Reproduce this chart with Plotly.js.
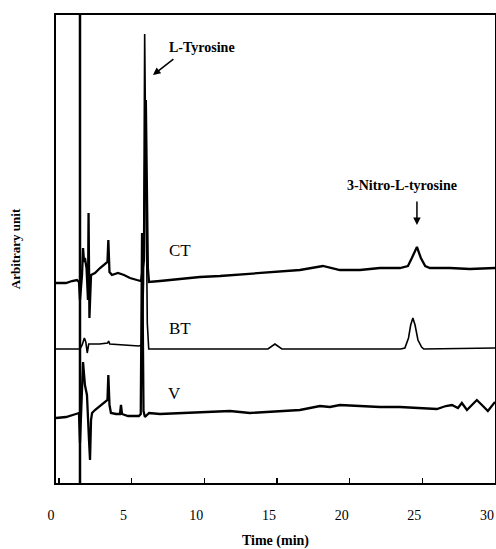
<!DOCTYPE html>
<html>
<head>
<meta charset="utf-8">
<script src="https://cdn.plot.ly/plotly-3.0.1.min.js"></script>
<style>html,body{margin:0;padding:0;background:#fff;}#chart{width:496px;height:549px;}</style>
</head>
<body>
<div id="chart"></div>
<script>
// Time (min) and detector response (arbitrary units)
const ctTime = [-0.2,0.49,0.9,1.24,1.38,1.45,1.59,1.66,1.73,1.79,1.9,2.0,2.04,2.1,2.21,2.48,2.83,3.17,3.34,3.4,3.48,3.65,4.06,4.48,4.89,5.37,5.65,5.85,5.98,6.12,6.2,6.95,8.33,9.7,11.08,13.14,15.2,16.58,18.16,19.33,20.71,22.08,23.46,24.01,24.28,24.63,24.9,25.2,25.52,26.9,28.27,30];
const ctValue = [200,200,202,203,201,183,208,235,221,225,215,183,270,165,208,210,215,219,221,243,211,208,210,208,205,203,202,223,383,215,201,202,204,206,207,209,211,213,217,213,213,215,215,217,225,236,225,217,215,215,214,215];

const btTime = [-0.2,1.3,1.45,1.6,1.75,1.85,1.95,2.05,2.2,2.8,3.35,3.42,3.5,4.5,5.5,5.72,5.82,5.9,5.98,6.08,6.18,8,10,13,14.38,14.86,15.34,16,20,23.5,23.8,24.05,24.2,24.35,24.5,24.7,24.95,25.1,30];
const btValue = [134,134,134,138,145,141,130,139,139,139,140,142,139,138,137,138,200,449,300,160,134,134,134,134,134,139,134,134,134,134,135,145,158,165,158,143,136,134,135];

const vTime = [-0.2,0.49,1.17,1.38,1.45,1.59,1.66,1.79,1.93,2.07,2.14,2.21,2.28,2.48,2.83,3.17,3.34,3.4,3.48,3.58,3.93,4.2,4.27,4.34,4.75,5.5,5.63,5.72,5.82,5.92,6.2,6.95,8.33,9.7,11.77,13.14,15.2,16.58,17.96,18.64,19.33,20.71,22.08,23.46,24.83,26.0,26.62,27.04,27.45,27.72,28.07,28.75,29.1,29.51,30];
const vValue = [65,66,69,70,40,103,121,98,88,43,23,63,70,73,77,81,83,108,78,70,69,69,78,69,67,67,69,250,72,66,70,69,70,71,72,70,72,73,77,76,78,77,76,76,75,74,77,78,75,80,73,83,78,72,81];

const injectionTime = 1.45;
const xTicks = [0,5,10,15,20,25,30];
const xTickLabels = ['0','5','10','15','20','25','30'];
const traceLabels = ['CT','BT','V'];

const serif = 'Liberation Serif, Times New Roman, serif';
const line = (x, y, w) => ({x: x, y: y, type: 'scatter', mode: 'lines', line: {color: '#000', width: w}, hoverinfo: 'skip', showlegend: false});

const data = [line(ctTime, ctValue, 2.3), line(btTime, btValue, 1.6), line(vTime, vValue, 2.3)];

const layout = {
  width: 496, height: 549,
  margin: {l: 56, r: 1, t: 15, b: 66},
  paper_bgcolor: '#fff', plot_bgcolor: '#fff',
  font: {family: serif, color: '#000', size: 14},
  showlegend: false,
  xaxis: {
    range: [-0.2, 30], tickvals: xTicks, ticktext: xTickLabels,
    ticks: 'inside', ticklen: 5, tickwidth: 1.5, tickcolor: '#000',
    ticklabelshift: -8, ticklabelstandoff: 18,
    showline: true, linecolor: '#000', linewidth: 2, mirror: true,
    showgrid: false, zeroline: false,
    tickfont: {family: serif, size: 14},
    title: {text: '<b>Time (min)</b>', font: {family: serif, size: 14}, standoff: 16}
  },
  yaxis: {
    range: [0, 468], showticklabels: false, ticks: '',
    showline: true, linecolor: '#000', linewidth: 2, mirror: true,
    showgrid: false, zeroline: false,
    title: {text: '<b>Arbitrary unit</b>', font: {family: serif, size: 13}, standoff: 30}
  },
  shapes: [{type: 'line', xref: 'x', yref: 'paper', x0: injectionTime, x1: injectionTime, y0: 0, y1: 1, line: {color: '#000', width: 2.5}}],
  annotations: [
    {x: 8.33, y: 233, xref: 'x', yref: 'y', text: traceLabels[0], showarrow: false, font: {family: serif, size: 17}},
    {x: 8.33, y: 155, xref: 'x', yref: 'y', text: traceLabels[1], showarrow: false, font: {family: serif, size: 17}},
    {x: 7.98, y: 90, xref: 'x', yref: 'y', text: traceLabels[2], showarrow: false, font: {family: serif, size: 17}},
    {x: 9.84, y: 436, xref: 'x', yref: 'y', text: '<b>L-Tyrosine</b>', showarrow: false, font: {family: serif, size: 14}},
    {x: 6.47, y: 408, ax: 7.98, ay: 425, xref: 'x', yref: 'y', axref: 'x', ayref: 'y', text: '', showarrow: true, arrowhead: 2, arrowsize: 1, arrowwidth: 1.5, arrowcolor: '#000'},
    {x: 23.6, y: 298, xref: 'x', yref: 'y', text: '<b>3-Nitro-L-tyrosine</b>', showarrow: false, font: {family: serif, size: 14}},
    {x: 24.63, y: 258, ax: 24.63, ay: 283, xref: 'x', yref: 'y', axref: 'x', ayref: 'y', text: '', showarrow: true, arrowhead: 2, arrowsize: 1, arrowwidth: 1.5, arrowcolor: '#000'}
  ]
};

Plotly.newPlot('chart', data, layout, {staticPlot: true, displayModeBar: false});
</script>
</body>
</html>
